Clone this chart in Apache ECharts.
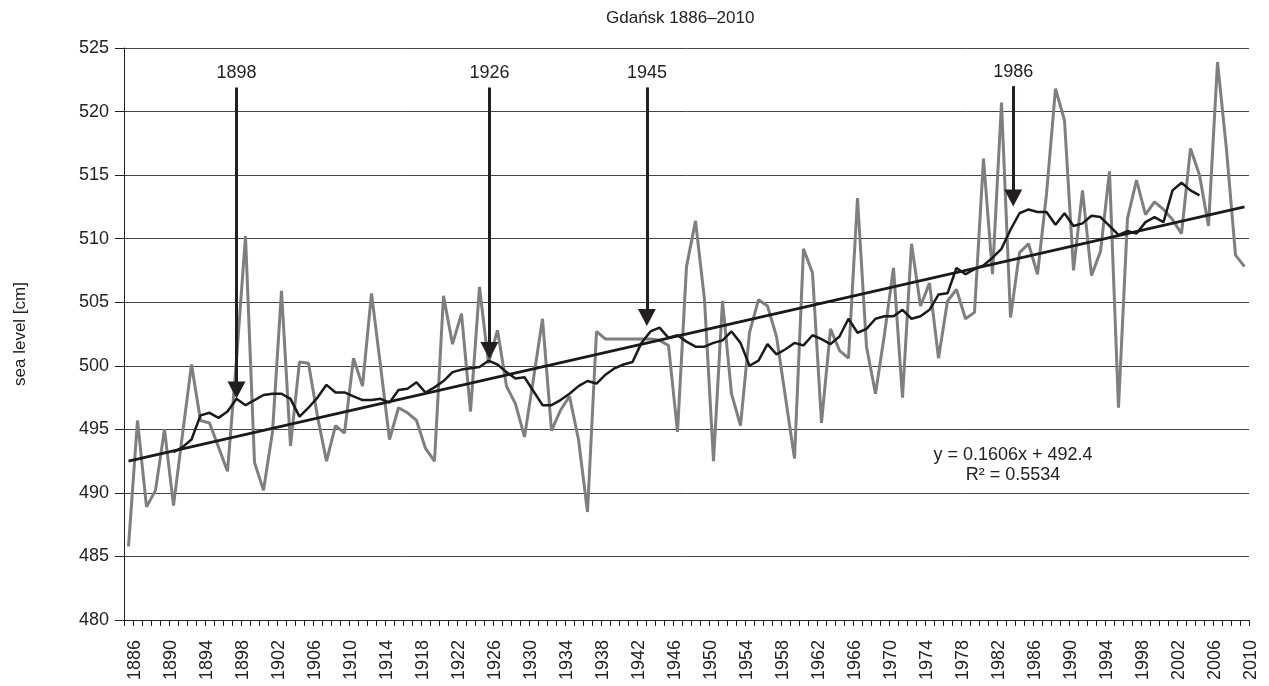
<!DOCTYPE html>
<html>
<head>
<meta charset="utf-8">
<title>Gdańsk 1886–2010</title>
<script src="https://cdn.jsdelivr.net/npm/echarts@6/dist/echarts.min.js"></script>
<style>
html, body { margin: 0; padding: 0; background: #fff; }
#chart { width: 1269px; height: 686px; }
</style>
</head>
<body>
<div id="chart"></div>
<script>
// years on the category axis
const firstYear = 1886;
const lastYear = 2010;
const years = [];
for (let y = firstYear; y <= lastYear; y++) years.push(String(y));

// annual mean sea level [cm], 1886-2010
const seaLevel = [
    485.8, 495.7, 488.9, 490.2, 495.0, 489.0, 494.6, 500.1, 495.7, 495.5, // 1886-1895
    493.6, 491.7, 500.5, 510.2, 492.4, 490.2, 494.8, 505.9, 493.7, 500.3, // 1896-1905
    500.2, 496.0, 492.5, 495.3, 494.7, 500.6, 498.4, 505.7, 500.0, 494.2, // 1906-1915
    496.7, 496.3, 495.7, 493.5, 492.5, 505.5, 501.7, 504.1, 496.4, 506.2, // 1916-1925
    500.2, 502.8, 498.4, 497.0, 494.4, 499.0, 503.7, 494.9, 496.5, 497.6, // 1926-1935
    494.2, 488.5, 502.7, 502.1, 502.1, 502.1, 502.1, 502.1, 502.1, 502.0, // 1936-1945
    501.6, 494.8, 507.8, 511.4, 505.2, 492.5, 505.1, 497.8, 495.3, 502.6, // 1946-1955
    505.2, 504.7, 502.3, 497.5, 492.7, 509.2, 507.3, 495.5, 502.9, 501.2, // 1956-1965
    500.6, 513.2, 501.5, 497.8, 502.5, 507.7, 497.5, 509.6, 504.7, 506.5, // 1966-1975
    500.6, 505.1, 506.0, 503.7, 504.2, 516.3, 507.2, 520.7, 503.8, 508.9, // 1976-1985
    509.6, 507.2, 513.5, 521.8, 519.3, 507.5, 513.8, 507.1, 509.0, 515.3, // 1986-1995
    496.7, 511.6, 514.6, 511.9, 512.9, 512.3, 511.5, 510.4, 517.1, 515.0, // 1996-2005
    511.0, 523.9, 517.0, 508.7, 507.8                                     // 2006-2010
];

// 11-year running mean as drawn (1891-2005)
const movingAvg = [
    null, null, null, null, null,
    493.2, 493.6, 494.2, 496.1, 496.3, 495.9, 496.4, 497.4, 496.9, 497.3, // 1891-1900
    497.7, 497.8, 497.8, 497.4, 496.0, 496.7, 497.5, 498.5, 497.9, 497.9, // 1901-1910
    497.6, 497.3, 497.3, 497.4, 497.1, 498.1, 498.2, 498.7, 497.9, 498.3, // 1911-1920
    498.8, 499.5, 499.7, 499.8, 499.9, 500.4, 500.1, 499.5, 499.0, 499.1, // 1921-1930
    498.0, 496.9, 496.9, 497.3, 497.8, 498.4, 498.8, 498.6, 499.3, 499.8, // 1931-1940
    500.1, 500.3, 501.8, 502.7, 503.0, 502.2, 502.4, 501.9, 501.5, 501.5, // 1941-1950
    501.8, 502.0, 502.7, 501.8, 500.0, 500.4, 501.7, 500.9, 501.3, 501.8, // 1951-1960
    501.6, 502.4, 502.1, 501.7, 502.3, 503.7, 502.6, 502.9, 503.7, 503.9, // 1961-1970
    503.9, 504.4, 503.7, 503.9, 504.4, 505.6, 505.7, 507.7, 507.2, 507.6, // 1971-1980
    507.9, 508.5, 509.2, 510.7, 512.0, 512.3, 512.1, 512.1, 511.1, 512.0, // 1981-1990
    511.0, 511.2, 511.8, 511.7, 511.0, 510.3, 510.6, 510.4, 511.3, 511.7, // 1991-2000
    511.3, 513.8, 514.4, 513.8, 513.4,                                     // 2001-2005
    null, null, null, null, null
];

// linear trend, end points
const trendYears = ['1886', '2010'];
const trendValues = [492.5, 512.5];
const trendText = 'y = 0.1606x + 492.4\nR² = 0.5534';

// arrow annotations: label, year position, shaft top, arrow head
const arrowLabels = ['1898', '1926', '1945', '1986'];
const arrowYears = [1898.0, 1926.1, 1943.6, 1984.3];
const arrowTops = [521.9, 521.9, 521.9, 522.0];
const arrowHeads = [498.1, 501.2, 503.8, 513.2];

const yTicks = { min: 480, max: 525, step: 5 };

const font = '"Liberation Sans", Arial, sans-serif';
const ink = '#222';

const chart = echarts.init(document.getElementById('chart'));

chart.setOption({
    animation: false,
    textStyle: { fontFamily: font },
    title: {
        text: 'Gdańsk 1886–2010',
        left: 606,
        top: 10,
        padding: 0,
        textStyle: { fontSize: 17, fontWeight: 'normal', color: ink, fontFamily: font }
    },
    grid: { left: 124, right: 20, top: 48, bottom: 66 },
    xAxis: [{
        type: 'category',
        data: years,
        boundaryGap: true,
        axisLine: { lineStyle: { color: ink, width: 1 } },
        axisTick: { show: true, interval: 0, length: 6, lineStyle: { color: ink } },
        axisLabel: {
            interval: 3,
            rotate: 90,
            margin: 20,
            fontSize: 18,
            color: ink,
            verticalAlign: 'top',
            lineHeight: 13
        },
        splitLine: { show: false }
    }, {
        type: 'value',
        min: firstYear - 0.5,
        max: lastYear + 0.5,
        show: false
    }],
    yAxis: {
        type: 'value',
        min: yTicks.min,
        max: yTicks.max,
        interval: yTicks.step,
        name: 'sea level [cm]',
        nameLocation: 'middle',
        nameGap: 95,
        nameTextStyle: { fontSize: 17, color: ink },
        axisLine: { show: true, lineStyle: { color: ink } },
        axisTick: { show: true, length: 9, lineStyle: { color: ink } },
        axisLabel: { margin: 15, fontSize: 18, color: ink },
        splitLine: { lineStyle: { color: '#444', width: 1 } }
    },
    graphic: [{
        type: 'text',
        x: 1013,
        y: 465,
        style: {
            text: trendText,
            font: '18px ' + font,
            fill: ink,
            align: 'center',
            verticalAlign: 'middle',
            lineHeight: 20
        }
    }],
    series: [{
        name: 'sea level',
        type: 'line',
        data: seaLevel,
        symbol: 'none',
        lineStyle: { color: '#7f7f7f', width: 3 },
        z: 2
    }, {
        name: 'trend',
        type: 'line',
        data: trendYears.map((y, k) => [y, trendValues[k]]),
        symbol: 'none',
        lineStyle: { color: '#1a1a1a', width: 2.6 },
        z: 3
    }, {
        name: 'running mean',
        type: 'line',
        data: movingAvg,
        symbol: 'none',
        lineStyle: { color: '#1a1a1a', width: 2.5 },
        z: 4
    }, {
        name: 'events',
        type: 'line',
        xAxisIndex: 1,
        data: [],
        z: 5,
        markLine: {
            silent: true,
            symbol: ['none', 'triangle'],
            symbolSize: [18, 17],
            lineStyle: { color: '#231f20', width: 3, type: 'solid' },
            label: {
                show: true,
                position: 'start',
                distance: 5,
                formatter: '{b}',
                fontSize: 18,
                color: ink
            },
            emphasis: { disabled: true },
            data: arrowLabels.map((name, k) => [
                { name: name, coord: [arrowYears[k], arrowTops[k]] },
                { coord: [arrowYears[k], arrowHeads[k]] }
            ])
        }
    }]
});
</script>
</body>
</html>
